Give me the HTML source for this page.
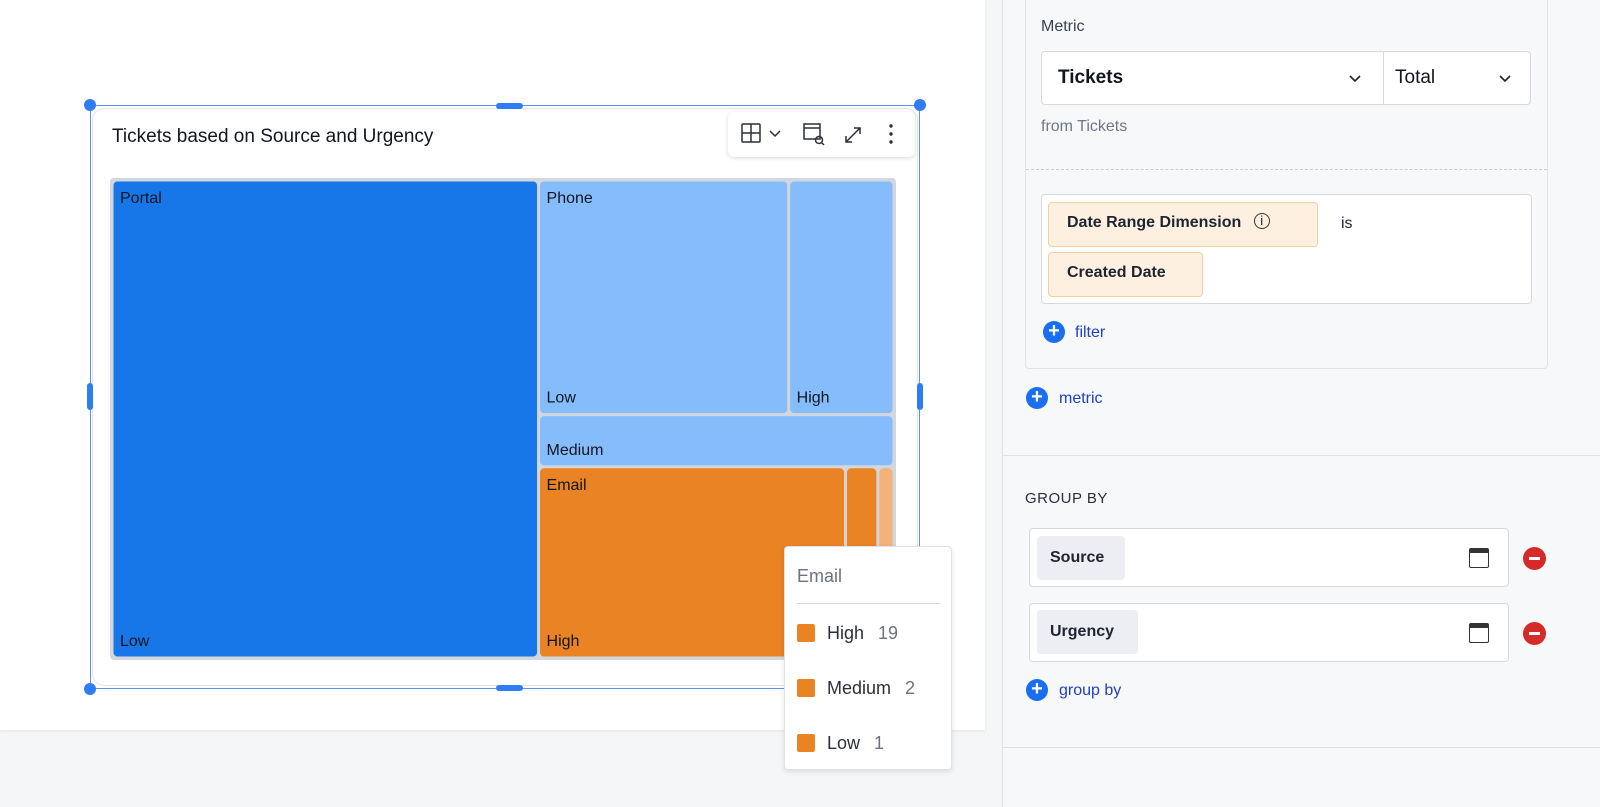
<!DOCTYPE html>
<html><head><meta charset="utf-8"><style>
*{box-sizing:border-box;margin:0;padding:0}
body{width:1600px;height:807px;position:relative;overflow:hidden;background:#f5f6f8;font-family:"Liberation Sans",sans-serif;color:#1f2430}
.a{position:absolute}
.lbl{position:absolute;font-size:16px;color:#12161d}
.plus{position:absolute;width:22px;height:22px;border-radius:50%;background:#1a6ff0;color:#fff;font-size:20px;line-height:21px;text-align:center;font-weight:bold}
.link{position:absolute;font-size:16px;color:#1d3fc4}
.chip{position:absolute;background:#fdf0e1;border:1px solid #f5cfa2;border-radius:4px;font-size:16px;font-weight:bold;color:#1f2430;padding:0 18px;line-height:40px}
</style></head><body>
<div class="a" style="left:0;top:0;width:985px;height:730px;background:#fff;box-shadow:0 1px 3px rgba(0,0,0,.08)"></div>
<div class="a" style="left:1002px;top:0;width:598px;height:807px;background:#f7f8fa;border-left:1px solid #dfe2e7"></div>

<!-- widget -->
<div class="a" style="left:92px;top:108px;width:826px;height:578px;border:1px solid #e3e5ea;border-radius:12px;background:#fff"></div>
<div class="a" style="left:90px;top:105px;width:830px;height:584px;border:1px solid #5b8ff0"></div>
<div class="a" style="left:84px;top:99px;width:12px;height:12px;border-radius:50%;background:#2f7df5"></div>
<div class="a" style="left:914px;top:99px;width:12px;height:12px;border-radius:50%;background:#2f7df5"></div>
<div class="a" style="left:84px;top:683px;width:12px;height:12px;border-radius:50%;background:#2f7df5"></div>
<div class="a" style="left:496px;top:103px;width:27px;height:6px;border-radius:3px;background:#2f7df5"></div>
<div class="a" style="left:496px;top:685px;width:27px;height:6px;border-radius:3px;background:#2f7df5"></div>
<div class="a" style="left:87px;top:383px;width:6px;height:27px;border-radius:3px;background:#2f7df5"></div>
<div class="a" style="left:917px;top:383px;width:6px;height:27px;border-radius:3px;background:#2f7df5"></div>
<div class="a" style="left:112px;top:126px;font-size:19px;color:#12161d">Tickets based on Source and Urgency</div>

<div class="a" style="left:728px;top:112px;width:187px;height:45px;background:#fff;border-radius:6px;box-shadow:0 1px 4px rgba(0,0,0,.15)">
<svg width="187" height="45" style="position:absolute;left:0;top:0" fill="none" stroke="#2a2f3a" stroke-width="1.5">
<g><rect x="14" y="12" width="18" height="18" rx="1"/><line x1="14" y1="21" x2="32" y2="21"/><line x1="23" y1="12" x2="23" y2="30"/><path d="M42 19l5 5 5-5"/></g>
<g><rect x="76" y="12" width="16" height="15"/><line x1="76" y1="16" x2="92" y2="16"/><circle cx="91" cy="28" r="3.5"/><line x1="93.5" y1="30.5" x2="96" y2="33"/></g>
<g><path d="M118 30l14-14M126 16h6v6M118 24v6h6"/></g>
<g fill="#2a2f3a" stroke="none"><circle cx="163" cy="14" r="1.7"/><circle cx="163" cy="22" r="1.7"/><circle cx="163" cy="30" r="1.7"/></g>
</svg></div>

<svg id="tm" class="a" style="left:0;top:0" width="1000" height="807"></svg>

<!-- tooltip -->
<div class="a" style="left:784px;top:546px;width:168px;height:224px;background:#fff;border:1px solid #dfe2e7;border-radius:4px;box-shadow:0 2px 6px rgba(0,0,0,.1)">
<div class="a" style="left:12px;top:19px;font-size:18px;color:#6b7280">Email</div>
<div class="a" style="left:12px;top:56px;width:144px;height:1px;background:#d6d9de"></div>
<div id="tt"></div>
</div>

<!-- side panel content -->
<div class="a" style="left:1025px;top:-10px;width:523px;height:379px;border:1px solid #dfe2e7;border-radius:4px"></div>
<div class="a" style="left:1041px;top:18px;font-size:16px;color:#3a4150">Metric</div>
<div class="a" style="left:1041px;top:51px;width:490px;height:54px;background:#fff;border:1px solid #d6d9de;border-radius:4px"></div>
<div class="a" style="left:1383px;top:52px;width:1px;height:52px;background:#d6d9de"></div>
<div class="a" style="left:1058px;top:67px;font-size:19px;font-weight:bold;color:#12161d">Tickets</div>
<div class="a" style="left:1395px;top:67px;font-size:19px;color:#12161d">Total</div>
<svg class="a" style="left:1348px;top:74px" width="14" height="10"><path d="M2 2l5 5 5-5" stroke="#222" stroke-width="1.6" fill="none"/></svg>
<svg class="a" style="left:1498px;top:74px" width="14" height="10"><path d="M2 2l5 5 5-5" stroke="#222" stroke-width="1.6" fill="none"/></svg>
<div class="a" style="left:1041px;top:118px;font-size:16px;color:#6b7888">from Tickets</div>
<div class="a" style="left:1026px;top:169px;width:521px;border-top:1px dashed #c8ccd3"></div>
<div class="a" style="left:1041px;top:194px;width:491px;height:110px;background:#fff;border:1px solid #d6d9de;border-radius:4px"></div>
<div class="chip" style="left:1048px;top:202px;width:270px;height:45px">Date Range Dimension <span style="font-weight:normal;font-size:13px;border:1.4px solid #333;border-radius:50%;display:inline-block;width:16px;height:16px;line-height:14px;text-align:center;margin-left:8px;vertical-align:2px">i</span></div>
<div class="a" style="left:1341px;top:215px;font-size:16px">is</div>
<div class="chip" style="left:1048px;top:252px;width:155px;height:45px">Created Date</div>
<div class="plus" style="left:1043px;top:321px">+</div>
<div class="link" style="left:1075px;top:324px">filter</div>
<div class="plus" style="left:1026px;top:387px">+</div>
<div class="link" style="left:1059px;top:390px">metric</div>
<div class="a" style="left:1003px;top:455px;width:597px;height:1px;background:#dfe2e7"></div>
<div class="a" style="left:1025px;top:490px;font-size:15px;color:#2a2f3a;letter-spacing:.5px">GROUP BY</div>
<div class="a" style="left:1029px;top:528px;width:480px;height:59px;background:#fff;border:1px solid #d6d9de;border-radius:4px"></div>
<div class="a" style="left:1037px;top:536px;width:88px;height:44px;background:#eceef3;border-radius:4px;font-size:16px;font-weight:bold;line-height:44px;padding-left:13px">Source</div>
<div class="a" style="left:1029px;top:603px;width:480px;height:59px;background:#fff;border:1px solid #d6d9de;border-radius:4px"></div>
<div class="a" style="left:1037px;top:610px;width:101px;height:44px;background:#eceef3;border-radius:4px;font-size:16px;font-weight:bold;line-height:44px;padding-left:13px">Urgency</div>
<div class="a" style="left:1469px;top:548px;width:20px;height:20px;border:1.5px solid #333;border-radius:2px;border-top-width:5px"></div>
<div class="a" style="left:1469px;top:623px;width:20px;height:20px;border:1.5px solid #333;border-radius:2px;border-top-width:5px"></div>
<div class="a" style="left:1523px;top:547px;width:23px;height:23px;border-radius:50%;background:#d42a2a"><div class="a" style="left:6px;top:10px;width:11px;height:2.5px;background:#fff"></div></div>
<div class="a" style="left:1523px;top:622px;width:23px;height:23px;border-radius:50%;background:#d42a2a"><div class="a" style="left:6px;top:10px;width:11px;height:2.5px;background:#fff"></div></div>
<div class="plus" style="left:1026px;top:679px">+</div>
<div class="link" style="left:1059px;top:682px">group by</div>
<div class="a" style="left:1003px;top:747px;width:597px;height:1px;background:#dfe2e7"></div>

<script>
const portalValues=[66];
const portalLabels=["Low"];
const phoneLabels=["Low","High","Medium"];
const phoneValues=[19,8,6];
const emailLabels=["High","Medium","Low"];
const emailValues=[19,2,1];
const tipLabels=["High","Medium","Low"];
const tipValues=[19,2,1];

const NS="http://www.w3.org/2000/svg";
const svg=document.getElementById('tm');
const X0=110,Y0=178,W=786,H=482;
const sum=a=>a.reduce((s,v)=>s+v,0);
function rect(x,y,w,h,fill,name,fillOp){
  const r=document.createElementNS(NS,'rect');
  r.setAttribute('x',x+1.5);r.setAttribute('y',y+1.5);
  r.setAttribute('width',Math.max(w-3,0));r.setAttribute('height',Math.max(h-3,0));
  r.setAttribute('rx',4);r.setAttribute('fill',fill);
  
  
  svg.appendChild(r);
}
function text(x,y,s,name){
  const t=document.createElementNS(NS,'text');
  t.setAttribute('x',x);t.setAttribute('y',y);t.setAttribute('font-size','16');
  t.setAttribute('fill','#12161d');t.setAttribute('font-family','Liberation Sans, sans-serif');
  t.textContent=s;
  
  
  svg.appendChild(t);
}
// background frame
const bg=document.createElementNS(NS,'rect');
bg.setAttribute('x',X0);bg.setAttribute('y',Y0);bg.setAttribute('width',W);bg.setAttribute('height',H);
bg.setAttribute('rx',4);bg.setAttribute('fill','#d3d7dd');


svg.appendChild(bg);

const total=sum(portalValues)+sum(phoneValues)+sum(emailValues);
const inX=X0+2,inY=Y0+2,inW=W-4,inH=H-4;
// Portal column
const pw=inW*sum(portalValues)/total;
rect(inX,inY,pw,inH,'#1777e8','portal-low');
text(inX+8,inY+23,'Portal','portal-label');
text(inX+8,inY+inH-12,portalLabels[0],'portal-low-label');
// right column
const rx=inX+pw,rw=inW-pw;
const rest=sum(phoneValues)+sum(emailValues);
const phH=inH*sum(phoneValues)/rest;
// phone: first two in row, then medium
const rowH=phH*(phoneValues[0]+phoneValues[1])/sum(phoneValues);
const lw=rw*phoneValues[0]/(phoneValues[0]+phoneValues[1]);
rect(rx,inY,lw,rowH,'#84bcfc','phone-low');
rect(rx+lw,inY,rw-lw,rowH,'#84bcfc','phone-high');
rect(rx,inY+rowH,rw,phH-rowH,'#84bcfc','phone-medium');
text(rx+8,inY+23,'Phone','phone-label');
text(rx+8,inY+rowH-12,phoneLabels[0],'phone-low-label');
text(rx+lw+8,inY+rowH-12,phoneLabels[1],'phone-high-label');
text(rx+8,inY+phH-12,phoneLabels[2],'phone-medium-label');
// email: horizontal slices
const ey=inY+phH,eh=inH-phH;let cx=rx;const es=sum(emailValues);
const ecol=['#e98324','#e98324','#f2b27a'];
emailValues.forEach((v,i)=>{const w=rw*v/es;rect(cx,ey,w,eh,ecol[i],'email-'+emailLabels[i].toLowerCase());cx+=w;});
text(rx+8,ey+23,'Email','email-label');
text(rx+8,ey+eh-12,emailLabels[0],'email-high-label');

// tooltip rows
const tt=document.getElementById('tt');
tipLabels.forEach((l,i)=>{
  const row=document.createElement('div');
  row.className='a';
  row.style.cssText='left:12px;top:'+(74+i*55)+'px;font-size:18px;color:#2a2f3a;white-space:nowrap;height:24px;line-height:24px';
  row.innerHTML='<span style="display:inline-block;width:18px;height:18px;background:#e98324;border-radius:2px;vertical-align:-3px;margin-right:12px"></span>'+l+'<span style="color:#6b7280;margin-left:14px">'+tipValues[i]+'</span>';
  
  
  tt.appendChild(row);
});
</script>
</body></html>
